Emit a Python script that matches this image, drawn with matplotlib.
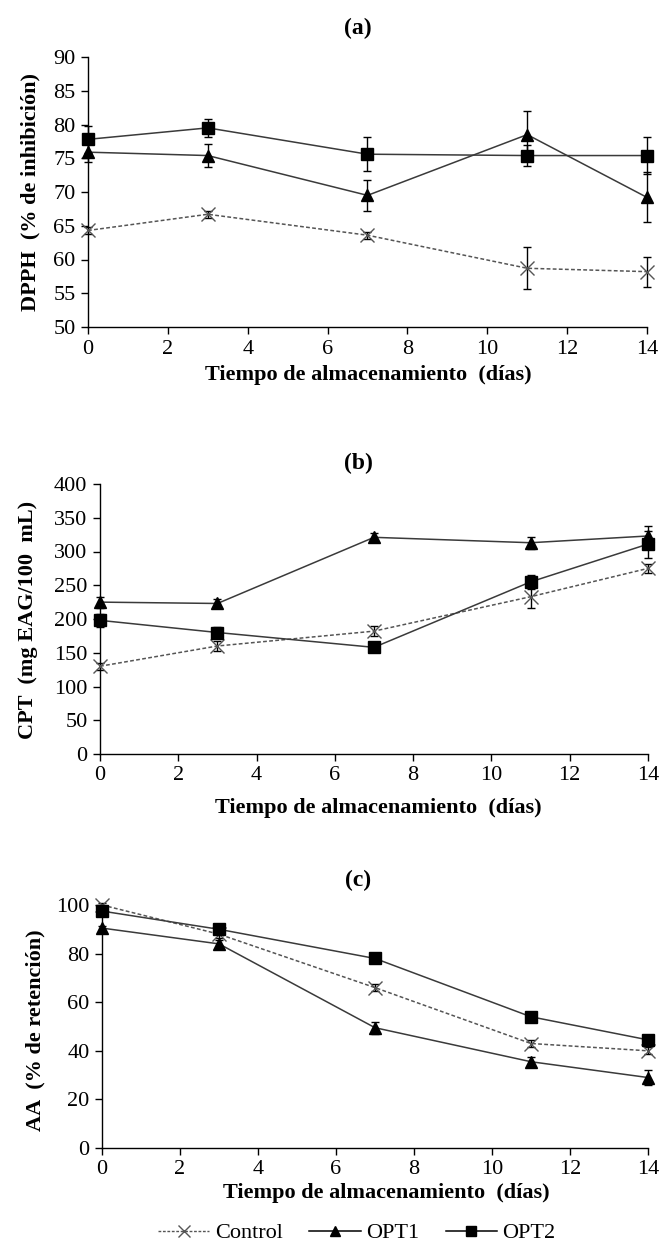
import matplotlib
matplotlib.use("Agg")
import matplotlib.pyplot as plt
from matplotlib.lines import Line2D

plt.rcParams['font.family'] = ['Liberation Serif', 'DejaVu Serif']

dias = [0, 3, 7, 11, 14]

# (a) DPPH (% de inhibición)
dpph_control = [64.3, 66.7, 63.6, 58.7, 58.2]
dpph_control_err = [0.5, 0.5, 0.5, 3.1, 2.2]
dpph_opt1 = [75.9, 75.4, 69.5, 78.5, 69.2]
dpph_opt1_err = [1.5, 1.7, 2.3, 3.5, 3.7]
dpph_opt2 = [77.8, 79.5, 75.6, 75.4, 75.4]
dpph_opt2_err = [2.0, 1.3, 2.5, 1.5, 2.8]

# (b) CPT (mg EAG/100 mL)
cpt_control = [130, 160, 182, 233, 275]
cpt_control_err = [5, 8, 7, 16, 7]
cpt_opt1 = [225, 223, 321, 313, 323]
cpt_opt1_err = [8, 6, 7, 9, 15]
cpt_opt2 = [198, 180, 158, 255, 311]
cpt_opt2_err = [10, 8, 5, 10, 20]

# (c) AA (% de retención)
aa_control = [100, 88, 66, 43, 40]
aa_control_err = [1.0, 1.5, 1.5, 1.5, 1.5]
aa_opt1 = [90.5, 84, 49.5, 35.5, 29]
aa_opt1_err = [1.0, 1.5, 2.5, 2.0, 3.0]
aa_opt2 = [97.5, 90, 78, 54, 44.5]
aa_opt2_err = [1.5, 1.0, 1.5, 1.0, 1.5]

x_ticks = [0, 2, 4, 6, 8, 10, 12, 14]
xlabel = "Tiempo de almacenamiento  (días)"

W, H = 661, 1245
fig = plt.figure(figsize=(W / 100, H / 100), dpi=100)


def px_axes(left, right, top, bottom):
    return fig.add_axes([left / W, 1 - bottom / H, (right - left) / W, (bottom - top) / H])


def style(ax, ylim, yticks):
    ax.set_xlim(0, 14)
    ax.set_ylim(*ylim)
    ax.set_xticks(x_ticks)
    ax.set_yticks(yticks)
    for s in ("top", "right"):
        ax.spines[s].set_visible(False)
    for s in ("left", "bottom"):
        ax.spines[s].set_linewidth(1.0)
        ax.spines[s].set_color("black")
    ax.tick_params(direction="out", length=5, width=1.0, labelsize=16, pad=4)


def series(ax, y, e, kind):
    if kind == "control":
        ax.errorbar(dias, y, yerr=e, color="#555555", ls=(0, (2.5, 1.5)), lw=1.1,
                    marker="x", ms=10, mew=1.0, mfc="#555555", mec="#555555",
                    ecolor="black", elinewidth=1.0, capsize=3, capthick=1.0,
                    clip_on=False, zorder=3)
    elif kind == "opt1":
        ax.errorbar(dias, y, yerr=e, color="#3a3a3a", ls="-", lw=1.1,
                    marker="^", ms=9, mfc="black", mec="black",
                    ecolor="black", elinewidth=1.0, capsize=3, capthick=1.0,
                    clip_on=False, zorder=4)
    else:
        ax.errorbar(dias, y, yerr=e, color="#3a3a3a", ls="-", lw=1.1,
                    marker="s", ms=9, mfc="black", mec="black",
                    ecolor="black", elinewidth=1.0, capsize=3, capthick=1.0,
                    clip_on=False, zorder=5)


# Panel (a)
ax1 = px_axes(88, 647, 57, 327)
style(ax1, (50, 90), range(50, 91, 5))
series(ax1, dpph_control, dpph_control_err, "control")
series(ax1, dpph_opt1, dpph_opt1_err, "opt1")
series(ax1, dpph_opt2, dpph_opt2_err, "opt2")
fig.text(358 / W, 1 - 28 / H, "(a)", ha="center", va="center", fontsize=17, fontweight="bold")
fig.text(368 / W, 1 - 375 / H, xlabel, ha="center", va="center", fontsize=16, fontweight="bold")
fig.text(30 / W, 1 - 192 / H, "DPPH  (% de inhibición)", ha="center", va="center",
         rotation=90, fontsize=16, fontweight="bold")

# Panel (b)
ax2 = px_axes(100, 648, 484, 754)
style(ax2, (0, 400), range(0, 401, 50))
series(ax2, cpt_control, cpt_control_err, "control")
series(ax2, cpt_opt1, cpt_opt1_err, "opt1")
series(ax2, cpt_opt2, cpt_opt2_err, "opt2")
fig.text(358 / W, 1 - 463 / H, "(b)", ha="center", va="center", fontsize=17, fontweight="bold")
fig.text(378 / W, 1 - 808 / H, xlabel, ha="center", va="center", fontsize=16, fontweight="bold")
fig.text(28 / W, 1 - 620 / H, "CPT  (mg EAG/100  mL)", ha="center", va="center",
         rotation=90, fontsize=16, fontweight="bold")

# Panel (c)
ax3 = px_axes(102, 648, 905, 1148)
style(ax3, (0, 100), range(0, 101, 20))
series(ax3, aa_control, aa_control_err, "control")
series(ax3, aa_opt1, aa_opt1_err, "opt1")
series(ax3, aa_opt2, aa_opt2_err, "opt2")
fig.text(358 / W, 1 - 880 / H, "(c)", ha="center", va="center", fontsize=17, fontweight="bold")
fig.text(386 / W, 1 - 1193 / H, xlabel, ha="center", va="center", fontsize=16, fontweight="bold")
fig.text(35 / W, 1 - 1030 / H, "AA  (% de retención)", ha="center", va="center",
         rotation=90, fontsize=16, fontweight="bold")

handles = [
    Line2D([], [], color="#555555", ls=(0, (2.0, 1.2)), lw=1.0, marker="x", ms=8, mew=1.0),
    Line2D([], [], color="black", ls="-", lw=1.1, marker="^", ms=7),
    Line2D([], [], color="black", ls="-", lw=1.1, marker="s", ms=7),
]
fig.legend(handles, ["Control", "OPT1", "OPT2"], loc="center", bbox_to_anchor=(357 / W, 1 - 1233 / H),
           ncol=3, frameon=False, fontsize=16, handlelength=2.3, handletextpad=0.25,
           columnspacing=1.2, borderaxespad=0, borderpad=0)

fig.savefig("out.png", dpi=100, facecolor="white")
